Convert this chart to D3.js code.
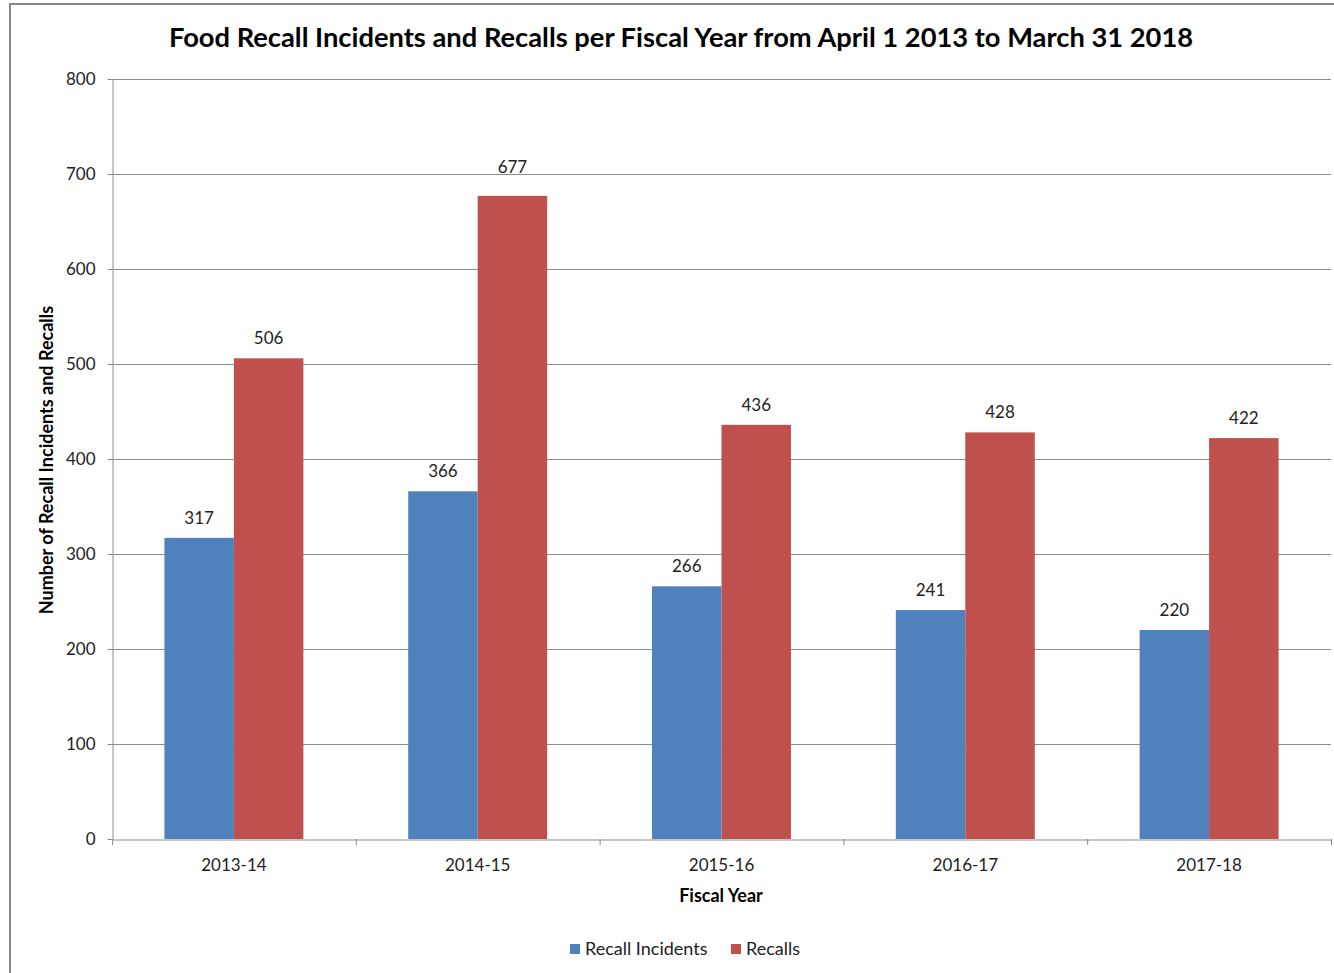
<!DOCTYPE html>
<html>
<head>
<meta charset="utf-8">
<script src="https://cdn.jsdelivr.net/npm/d3@7"></script>
<style>
  html, body { margin: 0; padding: 0; background: #fff; }
  svg text { font-family: Lato, "Open Sans", "DejaVu Sans", sans-serif; }
</style>
</head>
<body>
<svg id="chart" width="1334" height="973"></svg>
<script>
const fiscalYears = ["2013-14", "2014-15", "2015-16", "2016-17", "2017-18"];
const seriesNames = ["Recall Incidents", "Recalls"];
const recallIncidents = [317, 366, 266, 241, 220];
const recalls = [506, 677, 436, 428, 422];
const yTicks = [0, 100, 200, 300, 400, 500, 600, 700, 800];
const seriesColors = ["#4F81BD", "#C0504D"];

const svg = d3.select("#chart");
const W = 1334, H = 973;
const plot = { left: 112, right: 1331, top: 79, bottom: 839 };

// outer chart frame
svg.append("rect")
  .attr("x", 10).attr("y", 4)
  .attr("width", W + 20).attr("height", H + 20)
  .attr("fill", "#fff").attr("stroke", "#878787").attr("stroke-width", 2);

const x = d3.scaleBand().domain(fiscalYears).range([plot.left, plot.right]).paddingInner(0).paddingOuter(0);
const barW = x.bandwidth() * 0.285;
const xs = d3.scaleBand().domain(seriesNames).range([0, barW * 2]);
const y = d3.scaleLinear().domain([0, 800]).range([plot.bottom, plot.top]);

// horizontal gridlines
svg.append("g").selectAll("line").data(yTicks.filter(d => d > 0)).join("line")
  .attr("x1", plot.left).attr("x2", plot.right)
  .attr("y1", d => y(d) + 0.5).attr("y2", d => y(d) + 0.5)
  .attr("stroke", "#8c8c8c").attr("stroke-width", 1);

// y axis
const yAxis = svg.append("g").attr("transform", `translate(${plot.left + 0.5},0)`)
  .call(d3.axisLeft(y).tickValues(yTicks).tickSize(5).tickSizeOuter(0).tickPadding(12));
yAxis.select(".domain").attr("stroke", "#8c8c8c");
yAxis.selectAll(".tick line").attr("stroke", "#8c8c8c");
yAxis.selectAll(".tick text").attr("font-size", 17).attr("fill", "#222");

// value label placement: sit above the bar, and lift above a gridline it would straddle
function labelCenter(v) {
  let c = y(v) - 20;
  const crossed = yTicks.find(t => Math.abs(y(t) - c) < 7);
  if (crossed !== undefined) c = y(crossed) - 7;
  return c;
}

// bars
const series = [recallIncidents, recalls];
const groups = svg.append("g").selectAll("g").data(fiscalYears).join("g")
  .attr("transform", d => `translate(${x(d) + x.bandwidth() / 2 - barW},0)`);
groups.each(function (fy, i) {
  const g = d3.select(this);
  seriesNames.forEach((name, s) => {
    const v = series[s][i];
    g.append("rect")
      .attr("x", xs(name)).attr("width", xs.bandwidth())
      .attr("y", y(v)).attr("height", y(0) - y(v))
      .attr("fill", seriesColors[s]);
    g.append("text")
      .attr("x", xs(name) + xs.bandwidth() / 2).attr("y", labelCenter(v))
      .attr("dy", "0.35em")
      .attr("text-anchor", "middle").attr("font-size", 17).attr("fill", "#222")
      .text(v);
  });
});

// x axis
const xAxis = svg.append("g").attr("transform", `translate(0,${plot.bottom + 0.5})`)
  .call(d3.axisBottom(x).tickSize(0).tickPadding(19));
xAxis.select(".domain").attr("stroke", "#8c8c8c");
xAxis.selectAll(".tick text").attr("font-size", 17).attr("fill", "#222");
// boundary tick marks between categories
svg.append("g").selectAll("line")
  .data(fiscalYears.map(d => x(d)).concat([plot.right]))
  .join("line")
  .attr("x1", d => d + 0.5).attr("x2", d => d + 0.5)
  .attr("y1", plot.bottom).attr("y2", plot.bottom + 6)
  .attr("stroke", "#8c8c8c");

// titles
svg.append("text").attr("x", 681).attr("y", 47)
  .attr("text-anchor", "middle").attr("font-size", 27.3).attr("font-weight", "bold").attr("fill", "#000")
  .text("Food Recall Incidents and Recalls per Fiscal Year from April 1 2013 to March 31 2018");
svg.append("text").attr("x", 721).attr("y", 902)
  .attr("text-anchor", "middle").attr("font-size", 18).attr("font-weight", "bold").attr("fill", "#000")
  .text("Fiscal Year");
svg.append("text").attr("transform", "translate(53,460) rotate(-90)")
  .attr("text-anchor", "middle").attr("font-size", 18).attr("font-weight", "bold").attr("fill", "#000")
  .text("Number of Recall Incidents and Recalls");

// legend
const legend = svg.append("g").attr("transform", "translate(570,949)");
const legendX = [0, 161];
seriesNames.forEach((name, s) => {
  const lg = legend.append("g").attr("transform", `translate(${legendX[s]},0)`);
  lg.append("rect").attr("x", 0).attr("y", -5).attr("width", 10).attr("height", 10).attr("fill", seriesColors[s]);
  lg.append("text").attr("x", 15).attr("y", 0).attr("dy", "0.35em")
    .attr("font-size", 18).attr("fill", "#222").text(name);
});
</script>
</body>
</html>
